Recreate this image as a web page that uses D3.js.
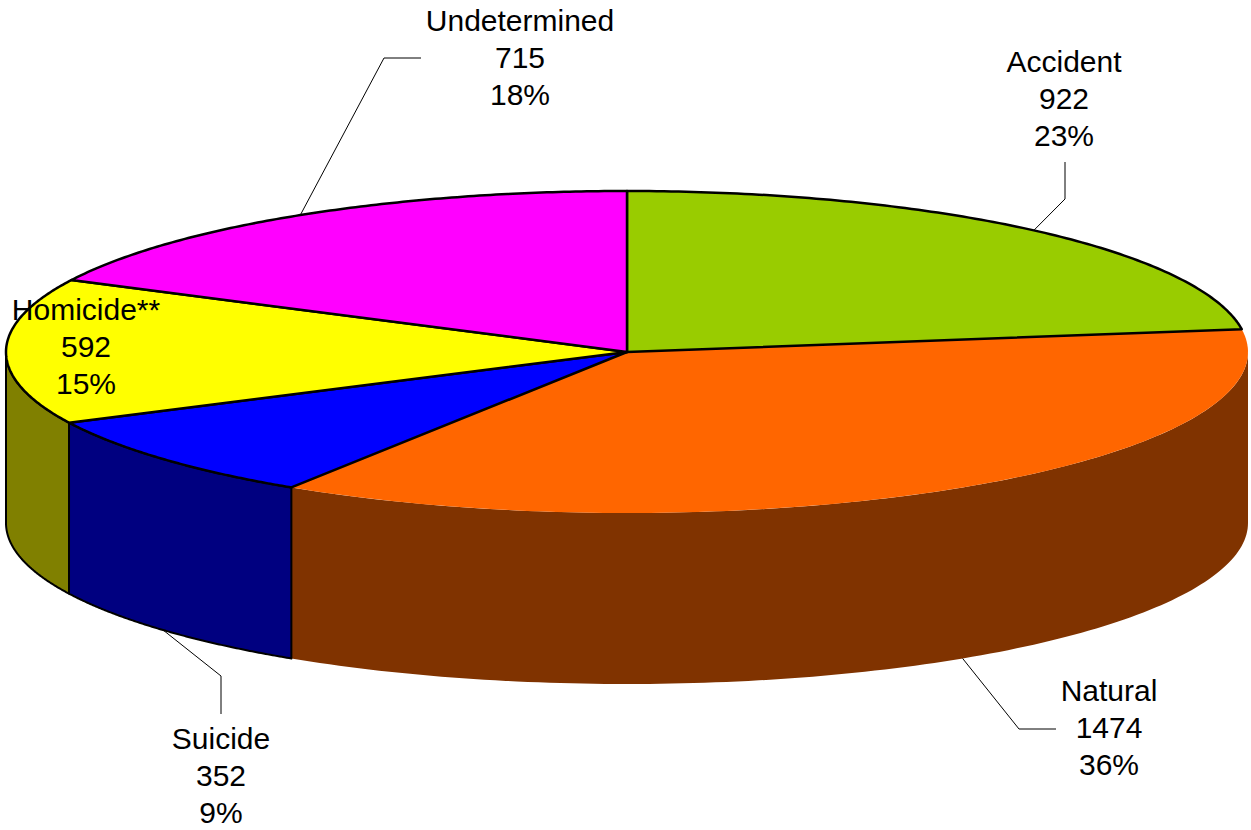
<!DOCTYPE html>
<html><head><meta charset="utf-8">
<script src="https://cdn.jsdelivr.net/npm/d3@7/dist/d3.min.js"></script>
<style>html,body{margin:0;padding:0;background:#fff}svg{display:block}text{font-family:"Liberation Sans",Arial,sans-serif;font-size:30px;fill:#000}</style>
</head><body><svg id="c" width="1251" height="830"></svg>
<script>
const categories=["Accident","Natural","Suicide","Homicide**","Undetermined"];
const counts=[922,1474,352,592,715];
const percents=["23%","36%","9%","15%","18%"];
const topColors=["#99CC00","#FF6600","#0000FF","#FFFF00","#FF00FF"];
const sideColors=["#4D6600","#803300","#000080","#808000","#800080"];
const outlined=[true,false,true,true,true];
const labelX=[1064,1109,221,86,520];
const labelY=[72,701,749,320,31];
const leaderElbows=[[[1065,199],[1065,162]],[[1019,729],[1056,729]],[[221,676],[221,714]],null,[[384,58],[421,58]]];

const svg=d3.select("#c");
const x=d3.scaleLinear([-1,1],[6,1248]);
const y=d3.scaleLinear([-1,1],[191,513]);
const depth=d3.scaleLinear([0,1],[0,171]);
const arcs=d3.pie().sort(null).startAngle(0).endAngle(2*Math.PI)(counts);
const pt=(a,d=0)=>[x(Math.sin(a)),y(-Math.cos(a))+depth(d)];
const samples=(a0,a1)=>d3.range(0,121).map(i=>a0+(a1-a0)*i/120);
const line=d3.line();
const order=[1,0,2,3,4];

// side walls: only the front half (90deg to 270deg) faces the viewer
order.forEach(i=>{
  const d=arcs[i];
  const a0=Math.max(d.startAngle,Math.PI/2),a1=Math.min(d.endAngle,3*Math.PI/2);
  if(a1<=a0)return;
  const top=samples(a0,a1).map(a=>pt(a,0));
  const bot=samples(a1,a0).map(a=>pt(a,1));
  svg.append("path").attr("d",line(top.concat(bot))+"Z")
    .attr("fill",sideColors[i]).attr("stroke",outlined[i]?"#000":"none").attr("stroke-width",2).attr("stroke-linejoin","round");
});
// top slices
order.forEach(i=>{
  const d=arcs[i];
  const rim=samples(d.startAngle,d.endAngle).map(a=>pt(a,0));
  svg.append("path").attr("d",line([[x(0),y(0)]].concat(rim))+"Z")
    .attr("fill",topColors[i]).attr("stroke",outlined[i]?"#000":"none").attr("stroke-width",2.5).attr("stroke-linejoin","round");
});
// leaders
arcs.forEach((d,i)=>{
  if(!leaderElbows[i])return;
  const m=(d.startAngle+d.endAngle)/2;
  const front=Math.cos(m)<0;
  svg.append("path").attr("d",line([pt(m,front?1:0)].concat(leaderElbows[i])))
    .attr("fill","none").attr("stroke","#000").attr("stroke-width",1);
});
// labels
categories.forEach((c,i)=>{
  const t=svg.append("text").attr("text-anchor","middle");
  [c,counts[i],percents[i]].forEach((s,j)=>{
    t.append("tspan").attr("x",labelX[i]).attr("y",labelY[i]+j*37).text(s);
  });
});
</script></body></html>
